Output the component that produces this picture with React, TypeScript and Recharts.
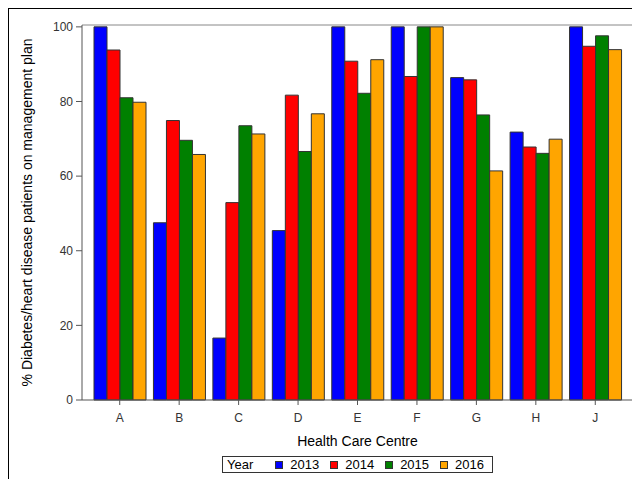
import React from "react";
import { Bar, BarChart, CartesianGrid, Label, XAxis, YAxis } from "recharts";

const centres = ["A", "B", "C", "D", "E", "F", "G", "H", "J"];
const years = ["2013", "2014", "2015", "2016"];
const y2013 = [100, 47.5, 16.6, 45.4, 100, 100, 86.4, 71.8, 100];
const y2014 = [93.8, 74.9, 52.9, 81.7, 90.8, 86.7, 85.8, 67.8, 94.8];
const y2015 = [81.0, 69.6, 73.5, 66.6, 82.2, 100, 76.4, 66.1, 97.6];
const y2016 = [79.8, 65.8, 71.3, 76.7, 91.2, 100, 61.4, 69.9, 93.9];
const yTicks = [0, 20, 40, 60, 80, 100];

const COLORS = ["#0000ff", "#ff0000", "#008000", "#ffa500"];
const OUTLINE = "#333";
const AXIS = "#555";
const FRAME = "#888";
const FONT = "'Liberation Sans', Arial, sans-serif";

const data = centres.map((centre, i) => ({
  centre,
  "2013": y2013[i],
  "2014": y2014[i],
  "2015": y2015[i],
  "2016": y2016[i],
}));

// top and right edges of the plot frame, taken from the chart's own offset
const frameTop = ({ offset }: any) => [offset.top];
const frameRight = ({ offset }: any) => [offset.left + offset.width];

function YearLegend() {
  return (
    <div
      style={{
        position: "absolute",
        left: 213,
        top: 447,
        width: 271,
        height: 17,
        boxSizing: "border-box",
        border: "1px solid #333",
        display: "flex",
        alignItems: "center",
        paddingLeft: 4,
        fontSize: 13,
        color: "#000",
      }}
    >
      <span style={{ marginRight: 22 }}>Year</span>
      {years.map((year, i) => (
        <span
          key={year}
          style={{ display: "flex", alignItems: "center", marginRight: 11 }}
        >
          <span
            style={{
              width: 8,
              height: 8,
              boxSizing: "border-box",
              background: COLORS[i],
              border: `1px solid ${OUTLINE}`,
              marginRight: 7,
            }}
          />
          {year}
        </span>
      ))}
    </div>
  );
}

export default function App() {
  return (
    <div
      style={{
        position: "relative",
        width: 632,
        height: 471,
        borderLeft: "1px solid #000",
        borderTop: "1px solid #000",
        fontFamily: FONT,
      }}
    >
      <BarChart
        width={631}
        height={470}
        data={data}
        margin={{ top: 16, right: 7, left: 0, bottom: 49 }}
        barCategoryGap={4}
        barGap={0}
      >
        <CartesianGrid
          stroke={FRAME}
          horizontalCoordinatesGenerator={frameTop}
          verticalCoordinatesGenerator={frameRight}
        />
        <XAxis
          dataKey="centre"
          padding={{ left: 8, right: 8 }}
          height={30}
          tickSize={5}
          tickMargin={8}
          tick={{ fill: "#333", fontSize: 12 }}
          tickLine={{ stroke: AXIS }}
          axisLine={{ stroke: AXIS }}
        >
          <Label
            value="Health Care Centre"
            position="bottom"
            offset={6}
            fill="#000"
            fontSize={14}
          />
        </XAxis>
        <YAxis
          width={73}
          domain={[0, 100.5]}
          ticks={yTicks}
          tickSize={6}
          tickMargin={3}
          tick={{ fill: "#333", fontSize: 12 }}
          tickLine={{ stroke: AXIS }}
          axisLine={{ stroke: AXIS }}
        >
          <Label
            value="% Diabetes/heart disease patients on management plan"
            angle={-90}
            position="insideLeft"
            offset={18}
            fill="#000"
            fontSize={14}
            style={{ textAnchor: "middle" }}
          />
        </YAxis>
        {years.map((year, i) => (
          <Bar
            key={year}
            dataKey={year}
            fill={COLORS[i]}
            stroke={OUTLINE}
            strokeWidth={1}
            isAnimationActive={false}
          />
        ))}
      </BarChart>
      <YearLegend />
    </div>
  );
}
